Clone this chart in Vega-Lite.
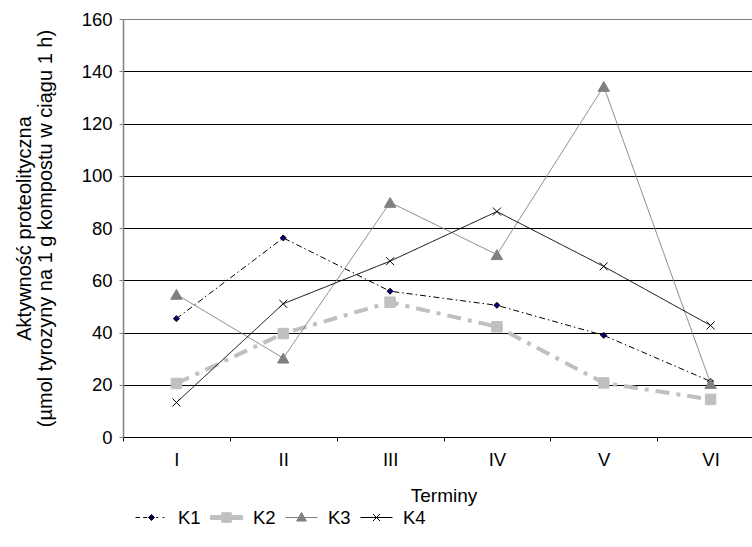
{
  "$schema": "https://vega.github.io/schema/vega-lite/v6.json",
  "width": 629,
  "height": 418,
  "autosize": {"type": "none"},
  "padding": {"left": 123, "top": 19, "right": 0, "bottom": 110},
  "background": "white",
  "config": {
    "view": {"stroke": null},
    "font": "Liberation Sans",
    "axis": {"labelFont": "Liberation Sans", "titleFont": "Liberation Sans", "labelFontSize": 18.5, "titleFontSize": 19, "labelColor": "black", "titleColor": "black", "titleFontWeight": "normal"},
    "legend": {"labelFont": "Liberation Sans", "labelFontSize": 18.5, "labelColor": "black"}
  },
  "data": {
    "values": [
      {"termin": "I", "seria": "K1", "value": 45.3},
      {"termin": "II", "seria": "K1", "value": 76.2},
      {"termin": "III", "seria": "K1", "value": 55.8},
      {"termin": "IV", "seria": "K1", "value": 50.4},
      {"termin": "V", "seria": "K1", "value": 38.9},
      {"termin": "VI", "seria": "K1", "value": 21.3},
      {"termin": "I", "seria": "K2", "value": 20.5},
      {"termin": "II", "seria": "K2", "value": 39.6},
      {"termin": "III", "seria": "K2", "value": 51.6},
      {"termin": "IV", "seria": "K2", "value": 42.2},
      {"termin": "V", "seria": "K2", "value": 20.7},
      {"termin": "VI", "seria": "K2", "value": 14.4},
      {"termin": "I", "seria": "K3", "value": 54.6},
      {"termin": "II", "seria": "K3", "value": 30.2},
      {"termin": "III", "seria": "K3", "value": 89.8},
      {"termin": "IV", "seria": "K3", "value": 69.8},
      {"termin": "V", "seria": "K3", "value": 134.2},
      {"termin": "VI", "seria": "K3", "value": 20.5},
      {"termin": "I", "seria": "K4", "value": 13.2},
      {"termin": "II", "seria": "K4", "value": 51},
      {"termin": "III", "seria": "K4", "value": 67.3},
      {"termin": "IV", "seria": "K4", "value": 86.3},
      {"termin": "V", "seria": "K4", "value": 65.3},
      {"termin": "VI", "seria": "K4", "value": 42.7}
    ]
  },
  "encoding": {
    "x": {
      "field": "termin", "type": "ordinal",
      "sort": ["I", "II", "III", "IV", "V", "VI"],
      "scale": {"range": [0, 641], "paddingInner": 0, "paddingOuter": 0},
      "axis": {
        "title": "Terminy", "labelAngle": 0, "tickBand": "extent", "grid": false,
        "domainColor": "black", "domainWidth": 1, "tickColor": "black", "tickSize": 4,
        "labelPadding": 9, "titlePadding": 18, "titleFontSize": 19
      }
    },
    "y": {
      "field": "value", "type": "quantitative",
      "scale": {"domain": [0, 160], "nice": false, "zero": true},
      "axis": {
        "title": ["Aktywność proteolityczna", "(µmol tyrozyny na 1 g kompostu w ciągu 1 h)"],
        "titleFontSize": 20,
        "titleLineHeight": 21,
        "values": [0, 20, 40, 60, 80, 100, 120, 140, 160],
        "grid": true,
        "gridColor": {"condition": {"test": "datum.value == 160", "value": "#808080"}, "value": "black"},
        "gridWidth": 1,
        "domainColor": "#808080", "domainWidth": 1.5,
        "tickColor": "#808080", "tickSize": 4,
        "labelPadding": 7, "titlePadding": 26
      }
    }
  },
  "layer": [
    {
      "mark": {"type": "line", "strokeJoin": "miter"},
      "encoding": {
        "detail": {"field": "seria"},
        "stroke": {"condition": [
          {"test": "datum.seria === 'K2'", "value": "#c0c0c0"},
          {"test": "datum.seria === 'K3'", "value": "#808080"}
        ], "value": "black"},
        "strokeDash": {"condition": [
          {"test": "datum.seria === 'K1'", "value": [6, 3, 1.5, 3]},
          {"test": "datum.seria === 'K2'", "value": [14, 7, 4, 7]}
        ], "value": [1, 0]},
        "strokeWidth": {"condition": {"test": "datum.seria === 'K2'", "value": 4}, "value": 1}
      }
    },
    {
      "mark": {"type": "point", "filled": false, "opacity": 1, "strokeWidth": 1},
      "encoding": {
        "stroke": {"condition": [
          {"test": "datum.seria === 'K2'", "value": "#c0c0c0"},
          {"test": "datum.seria === 'K3'", "value": "#808080"}
        ], "value": "black"},
        "fill": {"condition": [
          {"test": "datum.seria === 'K1'", "value": "#000080"},
          {"test": "datum.seria === 'K2'", "value": "#c0c0c0"},
          {"test": "datum.seria === 'K3'", "value": "#808080"}
        ], "value": "transparent"},
        "size": {"condition": [
          {"test": "datum.seria === 'K1'", "value": 36},
          {"test": "datum.seria === 'K2'", "value": 110},
          {"test": "datum.seria === 'K3'", "value": 130}
        ], "value": 64},
        "shape": {"condition": [
          {"test": "datum.seria === 'K1'", "value": "diamond"},
          {"test": "datum.seria === 'K2'", "value": "square"},
          {"test": "datum.seria === 'K3'", "value": "triangle-up"}
        ], "value": "M-1,-1L1,1M-1,1L1,-1"}
      }
    },
    {
      "transform": [{"filter": "false"}],
      "mark": {"type": "point", "filled": true, "opacity": 1, "strokeWidth": 1},
      "encoding": {
        "fill": {"field": "seria", "type": "nominal",
          "scale": {"domain": ["K1", "K2", "K3", "K4"], "range": ["#000080", "#c0c0c0", "#808080", "transparent"]}},
        "stroke": {"field": "seria", "type": "nominal",
          "scale": {"domain": ["K1", "K2", "K3", "K4"], "range": ["black", "#c0c0c0", "#808080", "black"]}},
        "shape": {"field": "seria", "type": "nominal",
          "scale": {"domain": ["K1", "K2", "K3", "K4"], "range": [
            "M-1,0H-0.72M-0.52,0H-0.27M-0.1,0H0.1M0.3,0H0.42M0.7,0H0.8M0,-0.19L0.19,0L0,0.19L-0.19,0Z",
            "M-1,-0.125H1V0.125H-1ZM-0.3,-0.3H0.3V0.3H-0.3Z",
            "M-1,0H1M0,-0.32L0.3,0.22L-0.3,0.22Z",
            "M-1,0H1M-0.22,-0.22L0.22,0.22M-0.22,0.22L0.22,-0.22"
          ]},
          "legend": {
            "title": null, "orient": "none", "direction": "horizontal",
            "legendX": 12, "legendY": 482,
            "symbolSize": 1024, "labelOffset": 10, "columnPadding": 7,
            "symbolStrokeWidth": 1, "symbolOpacity": 1
          }
        }
      }
    }
  ]
}
